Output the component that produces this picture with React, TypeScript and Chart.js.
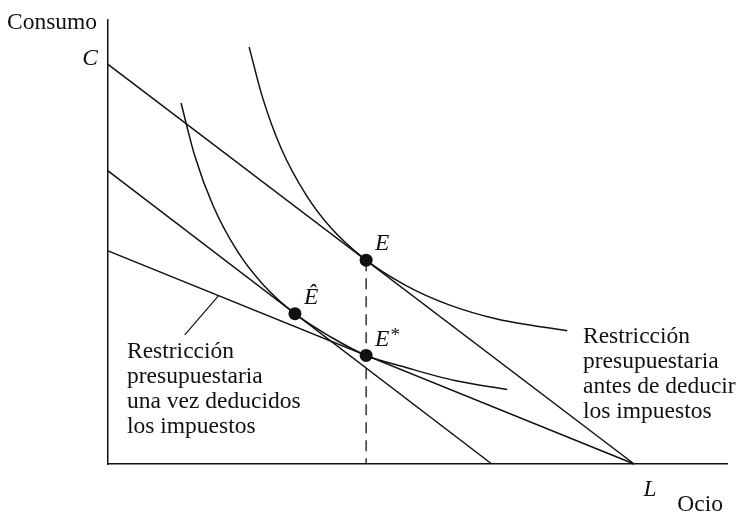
import { useEffect, useRef } from 'react';
import { Chart, registerables } from 'chart.js';

Chart.register(...registerables);

// ---- data (economic units: Ocio on x, Consumo on y) ----
const preTaxX = [0, 85];
const preTaxY = [90, 0];
const afterTaxX = [0, 85];
const afterTaxY = [48, 0];
const parallelX = [0, 62];
const parallelY = [66, 0];

const upperCurveX = [22.8, 25, 28, 32, 36, 41.7, 48, 55, 63, 74.2];
const upperCurveY = [93.9, 82.4, 71.0, 60.6, 53.2, 45.9, 40.3, 35.9, 32.6, 30.0];
const lowerCurveX = [11.8, 14, 17, 21, 25, 30.2, 36, 41.7, 48, 56, 64.5];
const lowerCurveY = [81.3, 69.5, 58.1, 47.7, 40.5, 33.85, 28.6, 24.45, 21.8, 18.8, 16.8];

const pointNames = ['E', 'Ê', 'E'];
const pointSup = ['', '', '*'];
const pointX = [41.7, 30.2, 41.7];
const pointY = [45.9, 33.85, 24.45];

const leaderX = [17.8, 12.4];
const leaderY = [37.8, 29.1];

const yAxisTitle = 'Consumo';
const xAxisTitle = 'Ocio';
const yInterceptLabel = 'C';
const xInterceptLabel = 'L';
const afterTaxNote = ['Restricción', 'presupuestaria', 'una vez deducidos', 'los impuestos'];
const preTaxNote = ['Restricción', 'presupuestaria', 'antes de deducir', 'los impuestos'];

const FONT = '"Liberation Serif", "Times New Roman", serif';
const FS = 23.5;
const INK = '#111';

const zip = (xs: number[], ys: number[]) => xs.map((x, i) => ({ x, y: ys[i] }));

const labelsPlugin = {
  id: 'textLabels',
  afterDatasetsDraw(chart: any) {
    const { ctx, chartArea: ca, scales } = chart;
    const xs = scales.x;
    const ys = scales.y;
    ctx.save();
    ctx.fillStyle = INK;
    ctx.textBaseline = 'middle';

    ctx.font = `${FS}px ${FONT}`;
    ctx.textAlign = 'left';
    ctx.fillText(yAxisTitle, 7, ca.top + 3);
    ctx.textAlign = 'right';
    ctx.fillText(xAxisTitle, ca.right - 4, ca.bottom + 41);

    ctx.textAlign = 'left';
    afterTaxNote.forEach((t, i) => ctx.fillText(t, ca.left + 19, 352 + i * 25));
    preTaxNote.forEach((t, i) => ctx.fillText(t, 583, 337 + i * 25));

    ctx.font = `italic ${FS}px ${FONT}`;
    ctx.textAlign = 'right';
    ctx.fillText(yInterceptLabel, ca.left - 10, ys.getPixelForValue(preTaxY[0]) - 6);
    ctx.textAlign = 'center';
    ctx.fillText(xInterceptLabel, xs.getPixelForValue(preTaxX[1]) + 16, ca.bottom + 26);

    ctx.textAlign = 'left';
    pointNames.forEach((n, i) => {
      const px = xs.getPixelForValue(pointX[i]) + 9;
      const py = ys.getPixelForValue(pointY[i]) - 16;
      ctx.font = `italic ${FS}px ${FONT}`;
      ctx.fillText(n, px, py);
      if (pointSup[i]) {
        const w = ctx.measureText(n).width;
        ctx.font = `19px ${FONT}`;
        ctx.fillText(pointSup[i], px + w + 1, py - 3);
      }
    });
    ctx.restore();
  },
};

export default function App() {
  const ref = useRef<HTMLCanvasElement>(null);

  useEffect(() => {
    const lineStyle = {
      borderColor: INK,
      borderWidth: 1.5,
      pointRadius: 0,
      fill: false,
      clip: false as any,
    };
    const chart = new Chart(ref.current as HTMLCanvasElement, {
      type: 'line',
      data: {
        datasets: [
          { ...lineStyle, data: zip(preTaxX, preTaxY) },
          { ...lineStyle, data: zip(afterTaxX, afterTaxY) },
          { ...lineStyle, data: zip(parallelX, parallelY) },
          { ...lineStyle, data: zip(upperCurveX, upperCurveY), cubicInterpolationMode: 'monotone' },
          { ...lineStyle, data: zip(lowerCurveX, lowerCurveY), cubicInterpolationMode: 'monotone' },
          {
            ...lineStyle,
            borderWidth: 1.3,
            borderDash: [11, 7],
            data: [
              { x: pointX[0], y: pointY[0] },
              { x: pointX[0], y: 0 },
            ],
          },
          { ...lineStyle, borderWidth: 1.2, data: zip(leaderX, leaderY) },
          {
            data: zip(pointX, pointY),
            showLine: false,
            pointRadius: 6.5,
            pointBackgroundColor: INK,
            pointBorderWidth: 0,
            clip: false as any,
          },
        ] as any,
      },
      options: {
        animation: false,
        responsive: false,
        devicePixelRatio: 1,
        layout: { padding: { left: 108, right: 12, top: 20, bottom: 51 } },
        plugins: { legend: { display: false }, tooltip: { enabled: false } },
        scales: {
          x: {
            type: 'linear',
            min: 0,
            max: 100,
            grid: { display: false, drawTicks: false },
            ticks: { display: false },
            border: { display: true, color: INK, width: 1.5 },
            afterFit: (s: any) => {
              s.height = 0;
            },
          },
          y: {
            type: 'linear',
            min: 0,
            max: 100,
            grid: { display: false, drawTicks: false },
            ticks: { display: false },
            border: { display: true, color: INK, width: 1.5 },
            afterFit: (s: any) => {
              s.width = 0;
            },
          },
        },
      } as any,
      plugins: [labelsPlugin],
    });
    return () => chart.destroy();
  }, []);

  return (
    <div style={{ position: 'fixed', left: 0, top: 0, width: 739, height: 515, background: '#fff' }}>
      <canvas ref={ref} width={739} height={515} style={{ display: 'block' }} />
    </div>
  );
}
